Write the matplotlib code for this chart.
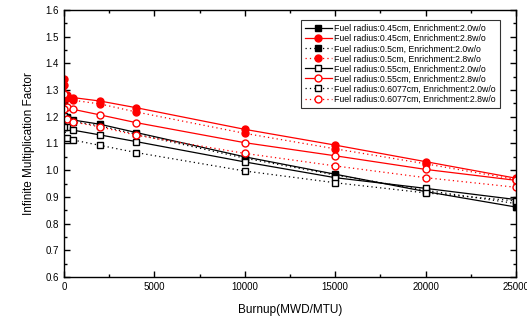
import matplotlib
matplotlib.use("Agg")
import matplotlib.pyplot as plt
from matplotlib.ticker import MultipleLocator, FormatStrFormatter

plt.rcParams['font.family'] = ['Liberation Sans', 'DejaVu Sans']

burnup = [0, 150, 500, 2000, 4000, 10000, 15000, 20000, 25000]

k_045_20 = [1.247, 1.200, 1.188, 1.172, 1.141, 1.050, 0.985, 0.920, 0.862]
k_045_28 = [1.340, 1.280, 1.272, 1.259, 1.234, 1.153, 1.094, 1.032, 0.970]
k_050_20 = [1.238, 1.195, 1.182, 1.166, 1.135, 1.045, 0.982, 0.925, 0.875]
k_050_28 = [1.320, 1.270, 1.262, 1.248, 1.218, 1.138, 1.080, 1.024, 0.965]
k_055_20 = [1.204, 1.160, 1.150, 1.132, 1.107, 1.031, 0.972, 0.932, 0.890]
k_055_28 = [1.284, 1.236, 1.228, 1.207, 1.178, 1.103, 1.054, 1.003, 0.962]
k_061_20 = [1.160, 1.122, 1.113, 1.093, 1.066, 0.997, 0.953, 0.915, 0.885]
k_061_28 = [1.231, 1.190, 1.181, 1.162, 1.131, 1.063, 1.016, 0.972, 0.936]

labels = ['Fuel radius:0.45cm, Enrichment:2.0w/o',
          'Fuel radius:0.45cm, Enrichment:2.8w/o',
          'Fuel radius:0.5cm, Enrichment:2.0w/o',
          'Fuel radius:0.5cm, Enrichment:2.8w/o',
          'Fuel radius:0.55cm, Enrichment:2.0w/o',
          'Fuel radius:0.55cm, Enrichment:2.8w/o',
          'Fuel radius:0.6077cm, Enrichment:2.0w/o',
          'Fuel radius:0.6077cm, Enrichment:2.8w/o']

series = [k_045_20, k_045_28, k_050_20, k_050_28,
          k_055_20, k_055_28, k_061_20, k_061_28]

dot = (0, (1, 2.5))
styles = [('black', 's', 'black', '-'),
          ('red', 'o', 'red', '-'),
          ('black', 's', 'black', dot),
          ('red', 'o', 'red', dot),
          ('black', 's', 'white', '-'),
          ('red', 'o', 'white', '-'),
          ('black', 's', 'white', dot),
          ('red', 'o', 'white', dot)]

fig = plt.figure(figsize=(5.27, 3.27), dpi=100)
ax = fig.add_axes([64/527, 50/327, 452/527, 267/327])

for y, lab, (c, m, fc, ls) in zip(series, labels, styles):
    ax.plot(burnup, y, color=c, marker=m, markerfacecolor=fc, markeredgecolor=c,
            linestyle=ls, linewidth=0.9, markersize=5, markeredgewidth=1,
            label=lab)

ax.set_xlim(0, 25000)
ax.set_ylim(0.6, 1.6)
ax.xaxis.set_major_locator(MultipleLocator(5000))
ax.xaxis.set_minor_locator(MultipleLocator(2500))
ax.yaxis.set_major_locator(MultipleLocator(0.1))
ax.yaxis.set_minor_locator(MultipleLocator(0.05))
ax.yaxis.set_major_formatter(FormatStrFormatter('%.1f'))
ax.tick_params(which='both', direction='in', top=True, right=True,
               labelsize=7, width=1)
ax.tick_params(which='major', length=4)
ax.tick_params(which='minor', length=2)
for s in ax.spines.values():
    s.set_linewidth(1)

ax.set_xlabel('Burnup(MWD/MTU)', fontsize=8.5, labelpad=9)
ax.set_ylabel('Infinite Multiplication Factor', fontsize=8.5, labelpad=8)

leg = ax.legend(loc='upper right', bbox_to_anchor=(0.965, 0.963), fontsize=6.3,
                frameon=True, fancybox=False, edgecolor='black',
                handlelength=3, labelspacing=0.12, borderpad=0.5,
                handletextpad=0.3, borderaxespad=0)
leg.get_frame().set_linewidth(0.8)

fig.savefig('out.png', dpi=100)
